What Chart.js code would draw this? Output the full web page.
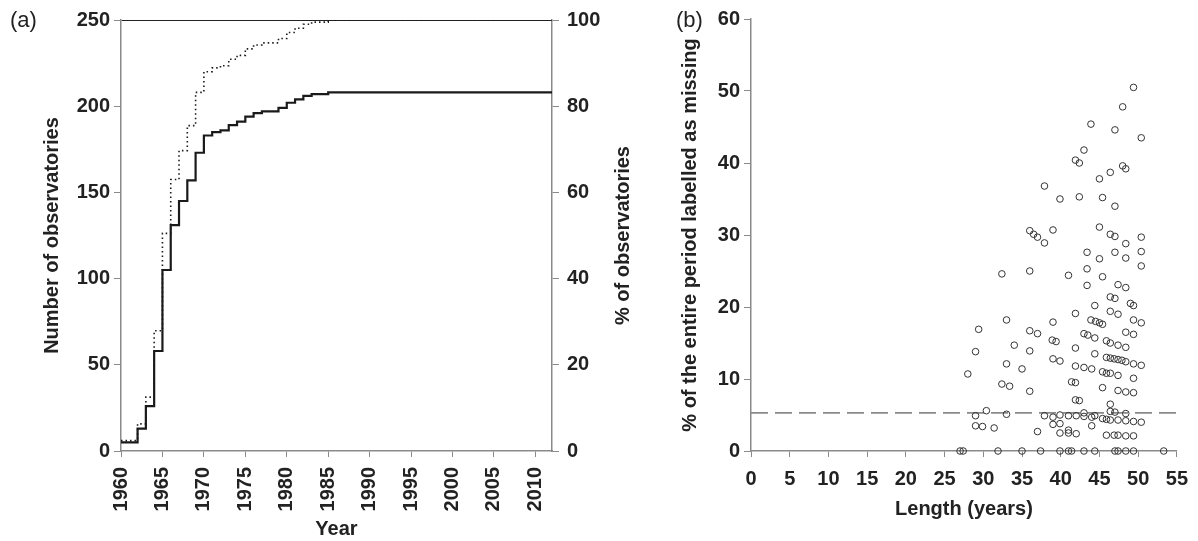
<!DOCTYPE html>
<html>
<head>
<meta charset="utf-8">
<script src="https://cdn.jsdelivr.net/npm/chart.js@4.4.0/dist/chart.umd.min.js"></script>
<style>
  body { margin: 0; background: #fff; }
  #wrap { position: relative; width: 1198px; height: 541px; }
  canvas { position: absolute; top: 0; }
  #chartA { left: 0; }
  #chartB { left: 640px; }
  .tag { position: absolute; font: 22px "Liberation Sans", Arial, sans-serif; color: #222; }
</style>
</head>
<body>
<div id="wrap">
  <canvas id="chartA" width="640" height="541"></canvas>
  <canvas id="chartB" width="558" height="541"></canvas>
  <div class="tag" style="left:10px; top:7px;">(a)</div>
  <div class="tag" style="left:676px; top:7px;">(b)</div>
</div>
<script>
// Panel (a): cumulative number of observatories per year
const years = [1960, 1961, 1962, 1963, 1964, 1965, 1966, 1967, 1968, 1969,
  1970, 1971, 1972, 1973, 1974, 1975, 1976, 1977, 1978, 1979,
  1980, 1981, 1982, 1983, 1984, 1985, 1986, 1987, 1988, 1989,
  1990, 1991, 1992, 1993, 1994, 1995, 1996, 1997, 1998, 1999,
  2000, 2001, 2002, 2003, 2004, 2005, 2006, 2007, 2008, 2009,
  2010, 2011, 2012];
const observatories = [5, 5, 13, 26, 58, 105, 131, 145, 157, 173,
  183, 185, 186, 189, 191, 194, 196, 197, 197, 199,
  202, 204, 206, 207, 207, 208, 208, 208, 208, 208,
  208, 208, 208, 208, 208, 208, 208, 208, 208, 208,
  208, 208, 208, 208, 208, 208, 208, 208, 208, 208,
  208, 208, 208];
const percentObs = [2.4, 2.4, 6.3, 12.5, 27.9, 50.5, 63.0, 69.7, 75.5, 83.2,
  88.0, 88.9, 89.4, 90.9, 91.8, 93.3, 94.2, 94.7, 94.7, 95.7,
  97.1, 98.1, 99.0, 99.5, 99.5, 100, 100, 100, 100, 100,
  100, 100, 100, 100, 100, 100, 100, 100, 100, 100,
  100, 100, 100, 100, 100, 100, 100, 100, 100, 100,
  100, 100, 100];

// Panel (b): record length vs % missing
const lengthYears = [49.4, 48.0, 43.9, 47.0, 50.4, 43.0, 41.9, 42.4, 48.0, 48.4,
  46.4, 45.0, 37.9, 39.9, 42.4, 45.4, 47.0, 39.0, 36.0, 36.5,
  37.0, 37.9, 45.0, 46.4, 47.0, 48.4, 50.4, 43.4, 47.0, 50.4,
  45.0, 48.4, 32.4, 36.0, 41.0, 43.4, 45.4, 50.4, 43.4, 47.4,
  48.4, 46.4, 47.0, 44.4, 49.0, 49.4, 41.9, 46.4, 47.4, 33.0,
  39.0, 43.9, 44.5, 45.0, 45.4, 49.4, 50.4, 29.4, 36.0, 37.0,
  43.0, 43.5, 44.4, 48.4, 49.4, 45.9, 46.4, 47.4, 48.4, 38.9,
  39.4, 34.0, 29.0, 36.0, 41.9, 44.4, 45.9, 46.4, 46.9, 47.4,
  47.9, 48.4, 49.4, 50.4, 33.0, 39.0, 39.9, 35.0, 41.9, 43.0,
  44.0, 45.4, 45.9, 46.4, 47.4, 28.0, 49.4, 32.4, 33.4, 36.0,
  41.4, 41.9, 45.4, 47.4, 48.4, 49.4, 41.9, 42.4, 46.4, 30.4,
  29.0, 33.0, 37.9, 39.0, 39.9, 41.0, 42.0, 43.0, 43.0, 44.0,
  44.4, 45.4, 45.9, 46.4, 47.0, 46.4, 47.4, 48.4, 48.4, 49.4,
  50.4, 29.0, 29.9, 31.4, 37.0, 39.0, 39.9, 39.9, 41.0, 41.0,
  42.0, 44.0, 45.9, 46.9, 47.4, 48.4, 49.4,
  27.0, 27.4, 31.9, 35.0, 37.4, 39.9, 41.0, 41.4, 43.0, 44.4,
  47.0, 47.4, 48.4, 49.4, 53.3];
const missingPct = [50.5, 47.8, 45.4, 44.6, 43.5, 41.8, 40.4, 40.0, 39.6, 39.2,
  38.7, 37.8, 36.8, 35.0, 35.3, 35.2, 34.0, 30.7, 30.6, 30.1,
  29.7, 28.9, 31.1, 30.1, 29.8, 28.8, 29.7, 27.6, 27.6, 27.7,
  26.7, 26.8, 24.6, 25.0, 24.4, 25.3, 24.2, 25.7, 23.0, 23.1,
  22.7, 21.4, 21.2, 20.2, 20.5, 20.2, 19.1, 19.4, 19.0, 18.2,
  17.9, 18.2, 18.0, 17.8, 17.6, 18.2, 17.8, 16.9, 16.7, 16.3,
  16.3, 16.1, 15.7, 16.5, 16.2, 15.3, 15.0, 14.7, 14.4, 15.4,
  15.2, 14.7, 13.8, 13.9, 14.3, 13.5, 13.0, 12.9, 12.8, 12.7,
  12.6, 12.4, 12.1, 11.9, 12.1, 12.8, 12.5, 11.4, 11.8, 11.6,
  11.4, 11.0, 10.8, 10.8, 10.5, 10.7, 10.1, 9.3, 9.0, 8.3,
  9.6, 9.5, 8.8, 8.4, 8.2, 8.1, 7.1, 7.0, 6.5, 5.6,
  4.9, 5.1, 4.9, 4.7, 5.0, 4.9, 4.9, 5.3, 4.8, 4.7,
  4.9, 4.5, 4.4, 5.5, 5.4, 4.3, 4.3, 5.2, 4.2, 4.1,
  4.0, 3.5, 3.4, 3.2, 2.7, 3.7, 3.8, 2.5, 2.9, 2.5,
  2.4, 3.5, 2.2, 2.2, 2.2, 2.1, 2.1,
  0, 0, 0, 0, 0, 0, 0, 0, 0, 0,
  0, 0, 0, 0, 0];
const thresholdPct = 5.3;

const tickFont = { family: '"Liberation Sans", Arial, sans-serif', size: 20, weight: 'bold' };
const axisGrey = '#8a8a8a';
const inkColor = '#222';

Chart.defaults.color = inkColor;
Chart.defaults.animation = false;

// right hand title reads bottom-to-top, like the left one
const rightTitle = {
  id: 'rightTitle',
  afterDraw(chart) {
    const { ctx, chartArea } = chart;
    ctx.save();
    ctx.translate(623, (chartArea.top + chartArea.bottom) / 2);
    ctx.rotate(-Math.PI / 2);
    ctx.font = 'bold 20px "Liberation Sans", Arial, sans-serif';
    ctx.fillStyle = inkColor;
    ctx.textAlign = 'center';
    ctx.textBaseline = 'middle';
    ctx.fillText('% of observatories', 0, 0);
    ctx.restore();
  }
};

new Chart(document.getElementById('chartA'), {
  type: 'line',
  data: {
    datasets: [
      {
        data: years.map((y, i) => ({ x: y, y: observatories[i] })),
        yAxisID: 'y',
        stepped: 'before',
        borderColor: '#1a1a1a',
        borderWidth: 2.2,
        pointRadius: 0,
        fill: false
      },
      {
        data: years.map((y, i) => ({ x: y, y: percentObs[i] })),
        yAxisID: 'y1',
        stepped: 'before',
        borderColor: '#1a1a1a',
        borderWidth: 1.6,
        borderDash: [1.5, 3],
        pointRadius: 0,
        fill: false
      }
    ]
  },
  options: {
    responsive: false,
    layout: { padding: { top: 19, left: 0, right: 0, bottom: 0 } },
    plugins: { legend: { display: false }, tooltip: { enabled: false } },
    scales: {
      x: {
        type: 'linear',
        min: 1960,
        max: 2012,
        afterFit: s => { s.height = 90; },
        border: { color: axisGrey, width: 1.5 },
        grid: { drawOnChartArea: false, tickLength: 6, color: axisGrey, tickColor: axisGrey },
        ticks: {
          stepSize: 5, includeBounds: false, minRotation: 90, maxRotation: 90, padding: 10,
          font: tickFont, color: inkColor,
          callback: v => String(v)
        },
        title: { display: true, text: 'Year', font: tickFont, color: inkColor, padding: { top: 0, bottom: 0 } }
      },
      y: {
        position: 'left',
        min: 0,
        max: 250,
        afterFit: s => { s.width = 121; },
        border: { color: axisGrey, width: 1.5 },
        grid: {
          drawOnChartArea: true,
          tickLength: 7,
          color: c => (c.tick && c.tick.value === 250 ? '#222' : 'rgba(0,0,0,0)'),
          tickColor: axisGrey
        },
        ticks: { stepSize: 50, padding: 4, font: tickFont, color: inkColor },
        title: { display: true, text: 'Number of observatories', font: tickFont, color: inkColor, padding: { top: 40, bottom: 0 } }
      },
      y1: {
        position: 'right',
        min: 0,
        max: 100,
        afterFit: s => { s.width = 88; },
        border: { color: axisGrey, width: 1.5 },
        grid: { drawOnChartArea: false, tickLength: 7, color: axisGrey, tickColor: axisGrey },
        ticks: { stepSize: 20, padding: 8, font: tickFont, color: inkColor }
      }
    }
  },
  plugins: [rightTitle]
});

new Chart(document.getElementById('chartB'), {
  type: 'scatter',
  data: {
    datasets: [
      {
        data: lengthYears.map((l, i) => ({ x: l, y: missingPct[i] })),
        pointRadius: 3.3,
        pointBorderWidth: 1,
        pointBorderColor: '#333',
        pointBackgroundColor: 'rgba(255,255,255,0)',
        clip: false
      },
      {
        type: 'line',
        data: [{ x: 0, y: thresholdPct }, { x: 55, y: thresholdPct }],
        borderColor: '#8a8a8a',
        borderWidth: 1.6,
        borderDash: [17, 7],
        pointRadius: 0,
        fill: false
      }
    ]
  },
  options: {
    responsive: false,
    layout: { padding: { top: 19, left: 0, right: 17, bottom: 0 } },
    plugins: { legend: { display: false }, tooltip: { enabled: false } },
    scales: {
      x: {
        type: 'linear',
        min: 0,
        max: 55,
        afterFit: s => { s.height = 90; },
        border: { color: axisGrey, width: 1.5 },
        grid: { drawOnChartArea: false, tickLength: 6, color: axisGrey, tickColor: axisGrey },
        ticks: { stepSize: 5, maxRotation: 0, padding: 10, font: tickFont, color: inkColor },
        title: { display: true, text: 'Length (years)', font: tickFont, color: inkColor, padding: { top: 0, bottom: 20 } }
      },
      y: {
        min: 0,
        max: 60,
        afterFit: s => { s.width = 111; },
        border: { color: axisGrey, width: 1.5 },
        grid: { drawOnChartArea: false, tickLength: 7, color: axisGrey, tickColor: axisGrey },
        ticks: { stepSize: 10, padding: 4, font: tickFont, color: inkColor },
        title: { display: true, text: '% of the entire period labelled as missing', font: tickFont, color: inkColor, padding: { top: 38, bottom: 0 } }
      }
    }
  }
});
</script>
</body>
</html>
